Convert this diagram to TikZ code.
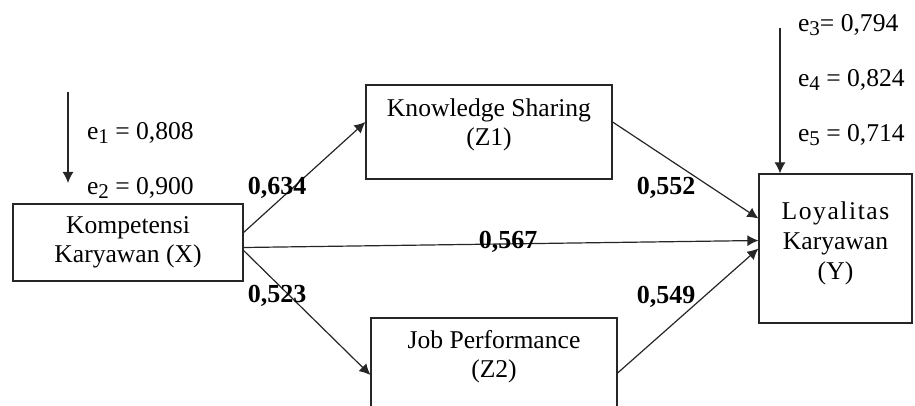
\documentclass[tikz,border=0pt]{standalone}
\usepackage{fontspec}
\setmainfont{Liberation Serif}
\usetikzlibrary{arrows.meta, positioning, calc}
\newcommand{\esub}[1]{\raisebox{-2pt}{\fontsize{10.5}{10.5}\selectfont#1}}
\tikzset{
  >={Latex[length=5.5pt,width=5.5pt]},
  % Kotak variabel
  box/.style={draw=black!85,line width=0.6pt,rectangle,inner sep=0},
  boxtext/.style={align=center,font=\fontsize{12.8}{14.5}\selectfont},
  % Koefisien jalur dan error
  coef/.style={font=\fontsize{13}{15}\selectfont\bfseries},
  err/.style={anchor=west,font=\fontsize{12.8}{15}\selectfont},
  % Panah
  connect arrow/.style={->,line width=0.6pt,black!85}
}

\begin{document}
\begin{tikzpicture}[x=0.5pt,y=-0.5pt]
  \useasboundingbox (0,0) rectangle (915,406);
  % Variabel
  \node[box,boxtext,minimum width=115pt,minimum height=38.5pt] (x) at (128,242.5)
    {Kompetensi\\Karyawan (X)};
  \node[box,minimum width=123pt,minimum height=47pt] (z1) at (489,132) {};
  \node[boxtext,yshift=3.5pt] (z1 text) at (z1) {Knowledge Sharing\\(Z1)};
  \node[box,minimum width=123pt,minimum height=47pt] (z2) at (494,365) {};
  \node[boxtext,yshift=4pt] (z2 text) at (z2) {Job Performance\\(Z2)};
  \node[box,minimum width=76.5pt,minimum height=74.5pt] (y) at (835.5,248.5) {};
  \node[boxtext,font=\fontsize{12.8}{15}\selectfont,yshift=2.75pt] (y text) at (y)
    {{\addfontfeature{LetterSpace=6}Loyalitas}\\Karyawan\\(Y)};
  % Error
  \coordinate (ex top) at (68,92);
  \coordinate (ex tip) at (68,183);
  \draw[connect arrow] (ex top) -- (ex tip);
  \node[err] (e1) at (80,133) {e\esub{1} = 0,808};
  \node[err] (e2) at (80,188) {e\esub{2} = 0,900};
  \coordinate (ey top) at (780,28);
  \draw[connect arrow] (ey top) -- (ey top |- y.north);
  \node[err] (e3) at (791,25) {e\esub{3}= 0,794};
  \node[err] (e4) at (791,80) {e\esub{4} = 0,824};
  \node[err] (e5) at (791,135) {e\esub{5} = 0,714};
  % Jalur
  \draw[connect arrow] ([yshift=5pt]x.east) -- ([yshift=5pt]z1.west);
  \draw[connect arrow] ([yshift=-2.5pt]x.east) -- ([yshift=4pt]y.west);
  \draw[connect arrow] ([yshift=-4pt]x.east) -- ([yshift=-5pt]z2.west);
  \draw[connect arrow] ([yshift=5pt]z1.east) -- ([yshift=15pt]y.west);
  \draw[connect arrow] ([yshift=-4pt]z2.east) -- ([yshift=0pt]y.west);
  % Koefisien
  \node[coef] (b1) at (277,188) {0,634};
  \node[coef] (b2) at (277,296) {0,523};
  \node[coef] (b3) at (508,242) {0,567};
  \node[coef] (b4) at (666,188) {0,552};
  \node[coef] (b5) at (666,297) {0,549};
\end{tikzpicture}
\end{document}
